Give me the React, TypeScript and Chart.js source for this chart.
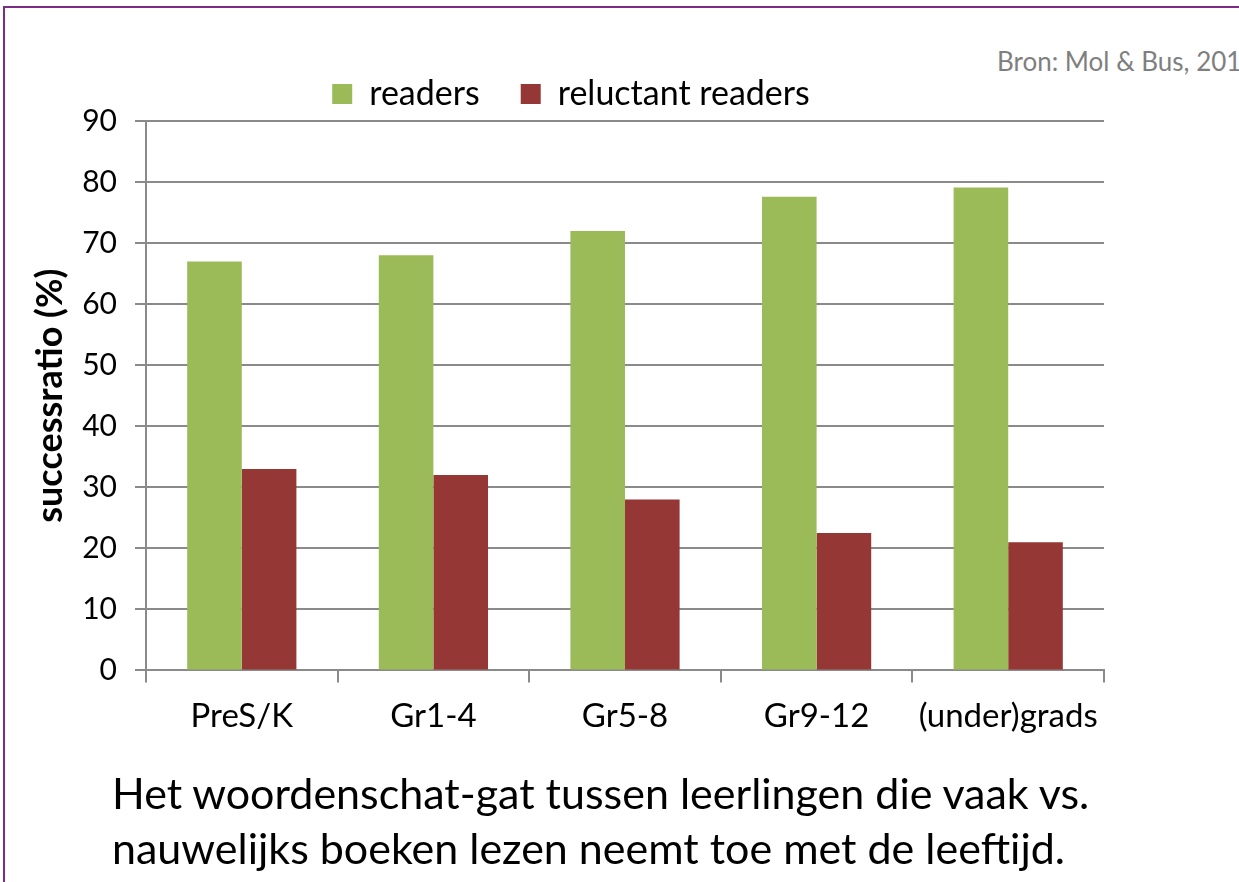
import React, { useEffect, useRef } from "react";
import { Chart, registerables } from "chart.js";

Chart.register(...registerables);

const categories = ["PreS/K", "Gr1-4", "Gr5-8", "Gr9-12", "(under)grads"];
const readers = [67, 68, 72, 77.6, 79.1];
const reluctantReaders = [33, 32, 28, 22.5, 21];
const seriesNames = ["readers", "reluctant readers"];
const yTitle = "successratio (%)";
const sourceText = "Bron: Mol & Bus, 2011";
const captionLines = [
  "Het woordenschat-gat tussen leerlingen die vaak vs.",
  "nauwelijks boeken lezen neemt toe met de leeftijd.",
];

const FONT = "Lato, 'Open Sans', sans-serif";

export default function App() {
  const canvasRef = useRef<HTMLCanvasElement | null>(null);

  useEffect(() => {
    const canvas = canvasRef.current;
    if (!canvas) return;
    const chart = new Chart(canvas, {
      type: "bar",
      data: {
        labels: categories,
        datasets: [
          {
            label: seriesNames[0],
            data: readers,
            backgroundColor: "#9BBB59",
            borderWidth: 0,
          },
          {
            label: seriesNames[1],
            data: reluctantReaders,
            backgroundColor: "#953735",
            borderWidth: 0,
          },
        ],
      },
      options: {
        responsive: false,
        animation: false,
        devicePixelRatio: 1,
        layout: { padding: { left: 38, right: 135, top: 36, bottom: 132 } },
        datasets: {
          bar: { categoryPercentage: 0.57, barPercentage: 1.0 },
        },
        plugins: {
          legend: {
            display: true,
            position: "top",
            labels: {
              boxWidth: 20,
              boxHeight: 20,
              padding: 41,
              color: "#000",
              font: { family: FONT, size: 34 },
            },
          },
          tooltip: { enabled: false },
          title: { display: false },
        },
        scales: {
          x: {
            offset: true,
            grid: {
              display: true,
              drawOnChartArea: false,
              drawTicks: true,
              tickLength: 12,
              color: "#8a8a8a",
              lineWidth: 2,
            },
            border: { display: true, color: "#8a8a8a", width: 2 },
            ticks: {
              color: "#000",
              padding: 14,
              font: { family: FONT, size: 33 },
              maxRotation: 0,
            },
          },
          y: {
            min: 0,
            max: 90,
            afterFit: (scale: any) => {
              scale.width = 108;
            },
            ticks: {
              stepSize: 10,
              color: "#000",
              padding: 18,
              font: { family: FONT, size: 30 },
            },
            grid: {
              color: "#8a8a8a",
              lineWidth: 2,
              tickLength: 11,
            },
            border: { display: true, color: "#8a8a8a", width: 2 },
            title: {
              display: true,
              text: yTitle,
              color: "#000",
              font: { family: FONT, size: 36, weight: "bold", lineHeight: 1 },
              padding: { top: -6, bottom: 0 },
            },
          },
        },
      },
    });
    return () => chart.destroy();
  }, []);

  return (
    <div
      style={{
        position: "fixed",
        left: 0,
        top: 0,
        width: 1239,
        height: 882,
        overflow: "hidden",
        background: "#fff",
      }}
    >
      <div
        style={{
          position: "absolute",
          left: 3,
          top: 6,
          width: 2000,
          height: 2000,
          border: "2px solid #7B2C84",
          boxSizing: "border-box",
        }}
      />
      <div
        style={{
          position: "absolute",
          left: 997,
          top: 46,
          fontFamily: FONT,
          fontSize: 26,
          lineHeight: "31px",
          color: "#7f7f7f",
          whiteSpace: "nowrap",
        }}
      >
        {sourceText}
      </div>
      <canvas
        ref={canvasRef}
        width={1239}
        height={882}
        style={{ position: "absolute", left: 0, top: 0, width: 1239, height: 882 }}
      />
      <div
        style={{
          position: "absolute",
          left: 112,
          top: 765,
          fontFamily: FONT,
          fontSize: 43,
          lineHeight: "55px",
          color: "#000",
          whiteSpace: "nowrap",
        }}
      >
        {captionLines.map((l, i) => (
          <div key={i}>{l}</div>
        ))}
      </div>
    </div>
  );
}
